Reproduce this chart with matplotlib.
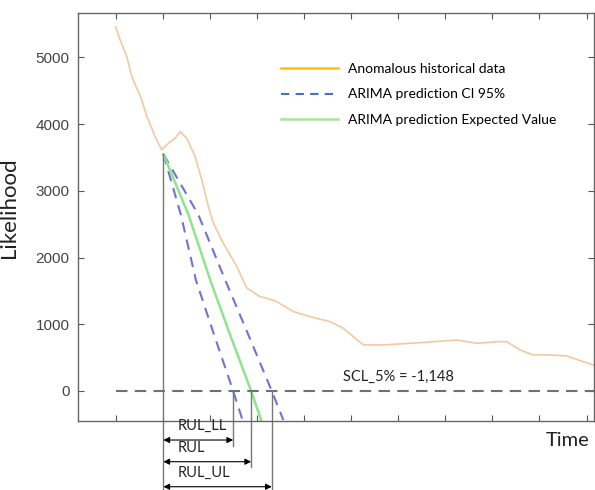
import numpy as np
import matplotlib.pyplot as plt
from matplotlib.lines import Line2D

# historical anomalous data (time steps, likelihood)
hist_t = [0, 4.8, 11.9, 17.2, 22.5, 27.8, 33.1, 34.8, 41.9, 49.0, 56.1, 63.2, 68.5,
          75.6, 84.4, 91.5, 98.5, 103.8, 114.4, 128.7, 139.3, 153.4, 160.5, 171.1,
          188.8, 206.5, 227.7, 241.8, 252.4, 263.1, 284.3, 312.6, 337.4, 362.2,
          383.5, 404.7, 415.3, 429.4, 443.5, 461.3, 479.0, 496.6, 507.2]
hist_v = [5460, 5262, 5011, 4711, 4538, 4362, 4112, 4062, 3812, 3613, 3713, 3788, 3887,
          3788, 3512, 3163, 2763, 2514, 2214, 1863, 1544, 1414, 1390, 1339,
          1189, 1114, 1039, 940, 814, 690, 690, 715, 739, 764,
          715, 739, 739, 615, 540, 540, 525, 439, 390]

# ARIMA prediction (expected value and 95% CI)
pred_v = [3550, 2640, 1665, 840, 0, -435]
pred_mean_t = [50.7, 77.4, 100.4, 121.6, 143.9, 154.5]
pred_low_t = [50.7, 69.3, 85.2, 104.6, 124.8, 134.7]
pred_up_t = [50.7, 87.9, 116.3, 141.0, 165.8, 178.1]

scl = 0
scl_label = "SCL_5% = -1,148"
t_start = 50.7

plt.rcParams['font.family'] = ['Liberation Sans', 'DejaVu Sans']

fig = plt.figure(figsize=(5.95, 4.9), dpi=100)
ax = fig.add_axes([0.131, 0.1408, 0.8665, 0.8333])

ax.plot(hist_t, hist_v, color='#F2C9A0', lw=1.2)
ax.plot(pred_low_t, pred_v, color='#7272D2', lw=1.5, ls=(0, (5, 3.5)))
ax.plot(pred_up_t, pred_v, color='#7272D2', lw=1.5, ls=(0, (5, 3.5)))
ax.plot(pred_mean_t, pred_v, color='#8EE58E', lw=1.8)

ax.hlines(scl, 0, 507.4, colors='#707070', lw=1.5, linestyles=(0, (5.5, 3.5)))

# crossings of the threshold
t_ll = np.interp(scl, pred_v[::-1], pred_low_t[::-1])
t_rul = np.interp(scl, pred_v[::-1], pred_mean_t[::-1])
t_ul = np.interp(scl, pred_v[::-1], pred_up_t[::-1])

ax.set_xlim(-40, 507.4)
ax.set_ylim(-450, 5670)

# vertical guide lines (extend below the axes)
ax.plot([t_start, t_start], [pred_v[0], -1500], color='#777777', lw=1, clip_on=False)
ax.plot([t_ll, t_ll], [scl, -825], color='#777777', lw=1, clip_on=False)
ax.plot([t_rul, t_rul], [scl, -1140], color='#777777', lw=1, clip_on=False)
ax.plot([t_ul, t_ul], [scl, -1500], color='#777777', lw=1, clip_on=False)

rows = [('RUL_LL', t_ll, -735), ('RUL', t_rul, -1060), ('RUL_UL', t_ul, -1435)]
for name, t_end, y in rows:
    ax.annotate('', xy=(t_end, y), xytext=(t_start, y),
                arrowprops=dict(arrowstyle='<|-|>', color='black', lw=0.8,
                                mutation_scale=9, shrinkA=0, shrinkB=0),
                annotation_clip=False)
    ax.text(t_start + 15, y + 100, name, fontsize=10.5, family='Lato',
            color='#222222', va='bottom', ha='left', clip_on=False)

ax.text(241.8, 214, scl_label, fontsize=10.5, family='Lato', color='#222222',
        va='center', ha='left')

ax.set_xticks(np.arange(0, 501, 50))
ax.set_xticklabels([])
ax.set_yticks(np.arange(0, 5001, 1000))
ax.tick_params(direction='in', length=4, width=0.8, color='#555555',
               top=True, right=True, labelsize=11, labelcolor='#444444', pad=6)
for s in ax.spines.values():
    s.set_color('#666666')
    s.set_linewidth(1)

ax.set_ylabel('Likelihood', family='Lato', fontsize=16, color='#222222', y=0.523)
ax.yaxis.set_label_coords(-0.115, 0.523)
fig.text(0.990, 0.102, 'Time', family='Lato', fontsize=14.5, color='#222222',
         ha='right', va='center')

handles = [Line2D([], [], color='#FFC000', lw=1.8),
           Line2D([], [], color='#4472C4', lw=1.5, ls=(0, (4, 3))),
           Line2D([], [], color='#A9E29A', lw=1.8)]
labels = ['Anomalous historical data', 'ARIMA prediction CI 95%',
          'ARIMA prediction Expected Value']
ax.legend(handles, labels, loc='upper left', bbox_to_anchor=(0.394, 0.878),
          frameon=False, borderaxespad=0, borderpad=0, handlelength=4.1,
          handletextpad=0.7, labelspacing=1.0, prop={'family': 'Lato', 'size': 10})

fig.savefig('out.png', dpi=100)
